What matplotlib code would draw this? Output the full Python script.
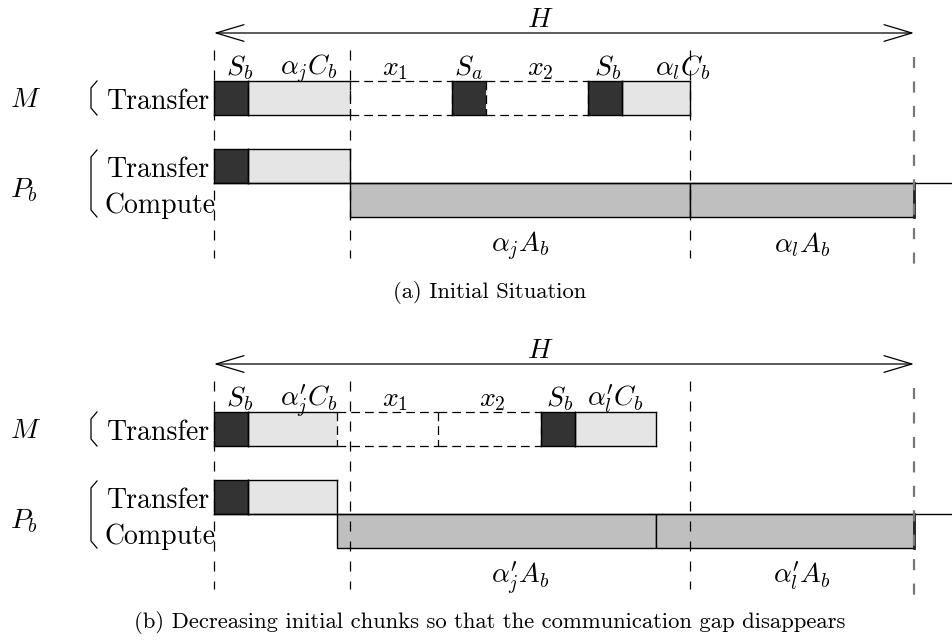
import matplotlib
matplotlib.use('Agg')
import matplotlib.pyplot as plt
from matplotlib.patches import Rectangle, FancyArrowPatch
import numpy as np

plt.rcParams['mathtext.fontset'] = 'cm'
plt.rcParams['font.family'] = ['cmr10', 'DejaVu Serif']
plt.rcParams['axes.unicode_minus'] = False

# ---------------- data (time units) ----------------
H_len = 700
marks = [0, 136, 476, 700]

# panel (a)
m_kinds_a = ['S', 'C', 'gap', 'S', 'gap', 'S', 'C']
m_dur_a = [34, 102, 102, 34, 102, 34, 68]
m_lab_a = [r'$S_b$', r'$\alpha_jC_b$', r'$x_1$', r'$S_a$', r'$x_2$', r'$S_b$', r'$\alpha_lC_b$']
m_labx_a = [26, 95, 181, 254, 326, 394, 469]
p_kinds_a = ['S', 'C']
p_dur_a = [34, 102]
c_dur_a = [340, 224]
c_lab_a = [r'$\alpha_jA_b$', r'$\alpha_lA_b$']
caption_a = '(a) Initial Situation'

# panel (b)
m_kinds_b = ['S', 'C', 'gap', 'gap', 'S', 'C']
m_dur_b = [34, 89, 101, 103, 34, 81]
m_lab_b = [r'$S_b$', r'$\alpha^{\prime}_jC_b$', r'$x_1$', r'$x_2$', r'$S_b$', r'$\alpha^{\prime}_lC_b$']
m_labx_b = [26, 95, 181, 278, 346, 401]
p_kinds_b = ['S', 'C']
p_dur_b = [34, 89]
c_dur_b = [319, 258]
c_lab_b = [r'$\alpha^{\prime}_jA_b$', r'$\alpha^{\prime}_lA_b$']
caption_b = '(b) Decreasing initial chunks so that the communication gap disappears'

# ---------------- style ----------------
DARK = '#333333'
LIGHT = '#e5e5e5'
COMP = '#bfbfbf'
FS = 20
X0 = 214
ROW_H = 34

fig = plt.figure(figsize=(9.52, 6.41), dpi=100)
ax = fig.add_axes([0, 0, 1, 1])
ax.set_xlim(0, 952)
ax.set_ylim(641, 0)
ax.axis('off')


def bracket(y_top, y_bot):
    xs = [97, 91, 91, 97]
    ys = [y_top, y_top + 7, y_bot - 7, y_bot]
    ax.plot(xs, ys, color='black', lw=0.9, solid_joinstyle='miter')


def draw_row(kinds, durs, y):
    starts = np.concatenate([[0], np.cumsum(durs)[:-1]])
    for i, (k, s, d) in enumerate(zip(kinds, starts, durs)):
        xl, xr = X0 + s, X0 + s + d
        if k == 'gap':
            ls = (0, (7, 4))
            ax.plot([xl, xr], [y, y], color='black', lw=0.9, ls=ls)
            ax.plot([xl, xr], [y + ROW_H, y + ROW_H], color='black', lw=0.9, ls=ls)
            ax.plot([xr, xr], [y, y + ROW_H], color='black', lw=0.9, ls=ls)
        else:
            fc = DARK if k == 'S' else LIGHT
            ax.add_patch(Rectangle((xl, y), d, ROW_H, facecolor=fc, edgecolor='none', zorder=1))
            ax.plot([xl, xr], [y, y], color='black', lw=1.0, zorder=2)
            ax.plot([xl, xr], [y + ROW_H, y + ROW_H], color='black', lw=1.0, zorder=2)
            ax.plot([xl, xl], [y, y + ROW_H], color='black', lw=1.0, zorder=2)
            nxt = kinds[i + 1] if i + 1 < len(kinds) else None
            if nxt == 'gap':
                ax.plot([xr, xr], [y, y + ROW_H], color='black', lw=0.9, ls=(0, (7, 4)), zorder=2)
            else:
                ax.plot([xr, xr], [y, y + ROW_H], color='black', lw=1.0, zorder=2)


def panel(dy, m_kinds, m_dur, m_lab, m_labx, p_kinds, p_dur, c_dur, c_lab, caption, cap_y):
    # double arrow H
    arr = FancyArrowPatch((X0, 33 + dy), (X0 + H_len, 33 + dy),
                          arrowstyle='<->,head_length=1.0,head_width=0.3',
                          mutation_scale=20, lw=0.9, color='black', shrinkA=0, shrinkB=0)
    ax.add_patch(arr)
    ax.text(X0 + H_len * 0.466, 27 + dy, r'$H$', fontsize=FS, ha='center', va='baseline')

    # dashed vertical marks
    for k, m in enumerate(marks):
        if k == len(marks) - 1:
            ax.plot([X0 + m, X0 + m], [57 + dy, 265 + dy], color='#777777', lw=1.6,
                    ls=(0, (5, 6)), zorder=3)
        else:
            ax.plot([X0 + m, X0 + m], [50 + dy, 258 + dy], color='black', lw=0.9,
                    ls=(0, (8, 8)), zorder=3)

    # row labels
    ax.text(10, 100 + dy, r'$M$', fontsize=FS, ha='left', va='center')
    ax.text(10, 190 + dy, r'$P_b$', fontsize=FS, ha='left', va='center')
    bracket(81 + dy, 115 + dy)
    bracket(150 + dy, 217 + dy)
    ax.text(210, 109 + dy, 'Transfer', fontsize=FS, ha='right', va='baseline')
    ax.text(210, 177 + dy, 'Transfer', fontsize=FS, ha='right', va='baseline')
    ax.text(216, 213 + dy, 'Compute', fontsize=FS, ha='right', va='baseline')

    # M transfer row
    draw_row(m_kinds, m_dur, 81 + dy)
    for lab, lx in zip(m_lab, m_labx):
        ax.text(X0 + lx, 75 + dy, lab, fontsize=FS, ha='center', va='baseline')

    # P_b transfer row
    draw_row(p_kinds, p_dur, 149 + dy)

    # compute row
    cstart = sum(p_dur)
    cy = 183 + dy
    xs = X0 + cstart + np.concatenate([[0], np.cumsum(c_dur)])
    for i, d in enumerate(c_dur):
        ax.add_patch(Rectangle((xs[i], cy), d, ROW_H, facecolor=COMP, edgecolor='black',
                               lw=1.0, zorder=1))
    ax.plot([X0, 952], [cy, cy], color='black', lw=1.0, zorder=2)
    ax.plot([xs[-1], xs[-1]], [cy, cy + ROW_H], color='#222222', lw=2.0, zorder=2)

    # compute labels centered between marks
    for j, lab in enumerate(c_lab):
        cx = X0 + (marks[j + 1] + marks[j + 2]) / 2
        ax.text(cx, 252 + dy, lab, fontsize=FS, ha='center', va='baseline')

    ax.text(490, cap_y, caption, fontsize=16.3, ha='center', va='center')


panel(0, m_kinds_a, m_dur_a, m_lab_a, m_labx_a, p_kinds_a, p_dur_a, c_dur_a, c_lab_a, caption_a, 293)
panel(331, m_kinds_b, m_dur_b, m_lab_b, m_labx_b, p_kinds_b, p_dur_b, c_dur_b, c_lab_b, caption_b, 622)

fig.savefig('out.png', dpi=100)
